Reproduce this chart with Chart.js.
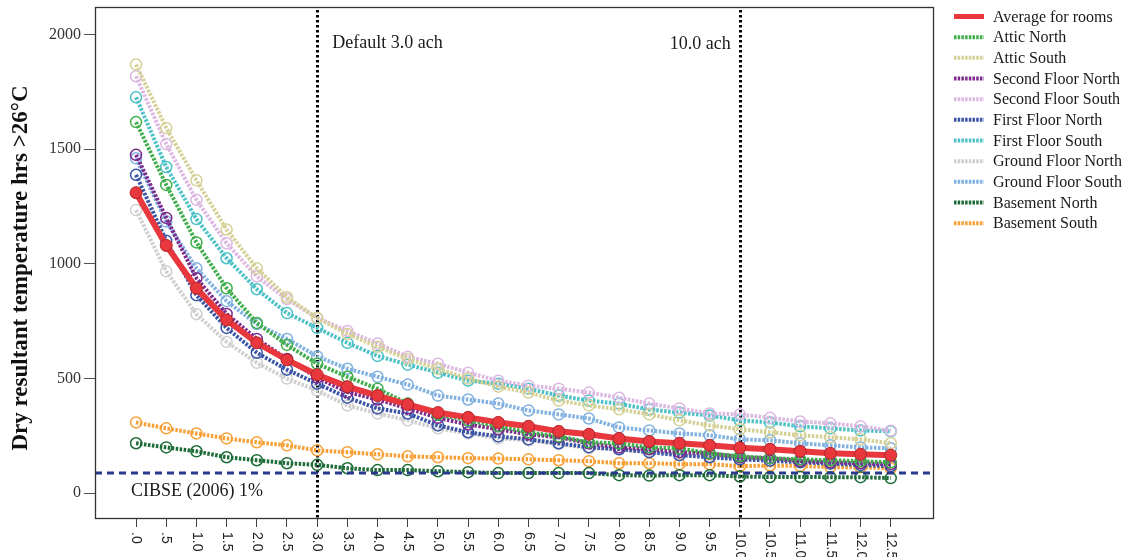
<!DOCTYPE html>
<html>
<head>
<meta charset="utf-8">
<script src="https://cdn.jsdelivr.net/npm/chart.js@4.4.1/dist/chart.umd.min.js"></script>
<style>
  html, body { margin: 0; padding: 0; background: #ffffff; }
  #wrap { width: 1141px; height: 557px; position: relative; }
</style>
</head>
<body>
<div id="wrap"><canvas id="c" width="1141" height="557"></canvas></div>
<script>
// ---- data (air changes per hour, ach) ----
const achValues = [0, 0.5, 1, 1.5, 2, 2.5, 3, 3.5, 4, 4.5, 5, 5.5, 6, 6.5, 7, 7.5, 8, 8.5, 9, 9.5, 10, 10.5, 11, 11.5, 12, 12.5];
const achTickLabels = ['.0', '.5', '1.0', '1.5', '2.0', '2.5', '3.0', '3.5', '4.0', '4.5', '5.0', '5.5', '6.0', '6.5', '7.0', '7.5', '8.0', '8.5', '9.0', '9.5', '10.0', '10.5', '11.0', '11.5', '12.0', '12.5'];
const yTickValues = [0, 500, 1000, 1500, 2000];
const yAxisTitle = 'Dry resultant temperature hrs >26°C';

const averageForRooms   = [1310, 1080, 893, 755, 655, 581, 516, 464, 425, 386, 351, 330, 308, 291, 269, 256, 238, 225, 217, 208, 197, 191, 182, 173, 169, 165];
const atticNorth        = [1618, 1344, 1093, 893, 742, 646, 564, 507, 455, 390, 343, 317, 291, 265, 247, 221, 217, 199, 195, 173, 160, 152, 147, 143, 139, 134];
const atticSouth        = [1869, 1592, 1364, 1149, 980, 854, 763, 694, 638, 585, 542, 499, 464, 438, 403, 382, 365, 343, 317, 295, 278, 265, 252, 243, 234, 217];
const secondFloorNorth  = [1475, 1200, 937, 781, 672, 585, 503, 440, 408, 369, 328, 299, 278, 256, 243, 217, 199, 191, 178, 173, 156, 152, 140, 134, 130, 126];
const secondFloorSouth  = [1818, 1522, 1279, 1089, 945, 846, 763, 707, 652, 594, 564, 525, 490, 468, 455, 438, 416, 390, 369, 347, 343, 328, 312, 304, 291, 272];
const firstFloorNorth   = [1388, 1100, 863, 720, 612, 538, 477, 416, 369, 347, 295, 265, 247, 234, 217, 200, 191, 178, 165, 156, 147, 141, 134, 128, 122, 117];
const firstFloorSouth   = [1726, 1422, 1195, 1024, 889, 785, 720, 655, 598, 560, 525, 490, 477, 455, 425, 403, 390, 364, 351, 338, 317, 308, 291, 282, 273, 269];
const groundFloorNorth  = [1234, 967, 780, 659, 568, 499, 447, 382, 347, 317, 282, 260, 238, 230, 213, 195, 191, 182, 170, 162, 152, 147, 140, 134, 130, 126];
const groundFloorSouth  = [1460, 1184, 980, 837, 737, 672, 596, 542, 507, 473, 425, 408, 390, 360, 343, 325, 286, 273, 260, 252, 234, 230, 217, 208, 199, 195];
const basementNorth     = [217, 199, 182, 156, 143, 130, 123, 108, 100, 100, 95, 91, 87, 87, 87, 87, 78, 76, 78, 78, 72, 70, 70, 69, 69, 65];
const basementSouth     = [308, 282, 260, 238, 221, 208, 186, 178, 169, 160, 156, 152, 150, 147, 143, 139, 130, 130, 126, 126, 117, 120, 118, 113, 112, 108];

const cibseLimit = 87;          // CIBSE (2006) 1% threshold
const markerLines = [3.0, 10.0]; // default 3.0 ach and 10.0 ach

const seriesNames = ['Average for rooms', 'Attic North', 'Attic South', 'Second Floor North', 'Second Floor South',
  'First Floor North', 'First Floor South', 'Ground Floor North', 'Ground Floor South', 'Basement North', 'Basement South'];
const seriesValues = [averageForRooms, atticNorth, atticSouth, secondFloorNorth, secondFloorSouth,
  firstFloorNorth, firstFloorSouth, groundFloorNorth, groundFloorSouth, basementNorth, basementSouth];
const seriesColors = ['#e8373d', '#3fae4a', '#d4d096', '#7d2a8c', '#dbb7e1',
  '#3953a6', '#4dc1c6', '#cfcfcf', '#80b1e1', '#1d6b36', '#f8a035'];

// ---- build datasets ----
const datasets = seriesNames.map((name, i) => {
  const pts = achValues.map((x, k) => ({ x: x, y: seriesValues[i][k] }));
  if (i === 0) {
    return {
      label: name, data: pts, borderColor: seriesColors[i], backgroundColor: seriesColors[i],
      borderWidth: 6, pointRadius: 6, pointBorderWidth: 1, pointBorderColor: '#b3242a',
      pointBackgroundColor: seriesColors[i], tension: 0
    };
  }
  return {
    label: name, data: pts, borderColor: seriesColors[i], backgroundColor: seriesColors[i],
    borderWidth: 4, borderDash: [2.5, 1.5], pointRadius: 5.5, pointBorderWidth: 1.5,
    pointBorderColor: seriesColors[i], pointBackgroundColor: 'rgba(0,0,0,0)', tension: 0
  };
});

const SERIF = "'Liberation Serif', 'Times New Roman', serif";
const SANS = "'Liberation Sans', Arial, sans-serif";

const decorPlugin = {
  id: 'decor',
  beforeDatasetsDraw(chart) {
    const { ctx, chartArea: a, scales: { x, y } } = chart;
    ctx.save();
    // vertical dotted marker lines
    ctx.strokeStyle = '#000';
    ctx.lineWidth = 3;
    ctx.setLineDash([2.5, 2.5]);
    markerLines.forEach(v => {
      const px = Math.round(x.getPixelForValue(v)) + 0.5;
      ctx.beginPath(); ctx.moveTo(px, a.top + 3); ctx.lineTo(px, a.bottom); ctx.stroke();
    });
    ctx.setLineDash([]);
    // annotations
    ctx.fillStyle = '#1a1a1a';
    ctx.font = '18px ' + SERIF;
    ctx.textBaseline = 'alphabetic';
    ctx.textAlign = 'left';
    ctx.fillText('Default 3.0 ach', x.getPixelForValue(3.0) + 15, 48);
    ctx.textAlign = 'right';
    ctx.fillText('10.0 ach', x.getPixelForValue(10.0) - 9, 49);
    ctx.textAlign = 'left';
    ctx.fillText('CIBSE (2006) 1%', 131, 496);
    ctx.restore();
  },
  afterDatasetsDraw(chart) {
    const { ctx, chartArea: a, scales: { x, y } } = chart;
    ctx.save();
    // CIBSE horizontal dashed line
    ctx.strokeStyle = '#283a8e';
    ctx.lineWidth = 3;
    ctx.setLineDash([7, 5]);
    const py = y.getPixelForValue(cibseLimit);
    ctx.beginPath(); ctx.moveTo(a.left, py); ctx.lineTo(a.right, py); ctx.stroke();
    ctx.setLineDash([]);
    // frame
    ctx.strokeStyle = '#333';
    ctx.lineWidth = 1.3;
    ctx.strokeRect(a.left + 0.5, a.top + 0.5, a.right - a.left, a.bottom - a.top);
    ctx.restore();
  },
  afterDraw(chart) {
    const { ctx, scales: { x } } = chart;
    ctx.save();
    // y axis title
    ctx.fillStyle = '#111';
    ctx.font = 'bold 23px ' + SERIF;
    ctx.textAlign = 'center';
    ctx.textBaseline = 'middle';
    ctx.save();
    ctx.translate(21, 268);
    ctx.rotate(-Math.PI / 2);
    ctx.fillText(yAxisTitle, 0, 0);
    ctx.restore();
    // x tick labels rotated (reading top to bottom)
    ctx.fillStyle = '#222';
    ctx.font = '14px ' + SANS;
    ctx.textAlign = 'left';
    ctx.textBaseline = 'middle';
    achValues.forEach((v, i) => {
      const px = x.getPixelForValue(v);
      ctx.save();
      ctx.translate(px, 532);
      ctx.rotate(Math.PI / 2);
      ctx.fillText(achTickLabels[i], 0, 0);
      ctx.restore();
    });
    // legend
    const lx = 954, tx = 993, y0 = 16.5, dy = 20.67;
    ctx.font = '16px ' + SERIF;
    ctx.textAlign = 'left';
    ctx.textBaseline = 'middle';
    seriesNames.forEach((name, i) => {
      const yy = y0 + dy * i;
      ctx.strokeStyle = seriesColors[i];
      if (i === 0) {
        ctx.lineWidth = 5; ctx.setLineDash([]);
      } else {
        ctx.lineWidth = 4; ctx.setLineDash([2.5, 1.2]);
      }
      ctx.beginPath(); ctx.moveTo(lx, yy); ctx.lineTo(lx + 30, yy); ctx.stroke();
      ctx.setLineDash([]);
      ctx.fillStyle = '#1a1a1a';
      ctx.fillText(name, tx, yy + 1);
    });
    ctx.restore();
  }
};

new Chart(document.getElementById('c'), {
  type: 'line',
  data: { datasets },
  options: {
    responsive: false,
    animation: false,
    layout: { padding: { left: 0, right: 208, top: 1, bottom: 0 } },
    plugins: { legend: { display: false }, tooltip: { enabled: false } },
    scales: {
      x: {
        type: 'linear', min: -0.68, max: 13.2,
        afterBuildTicks: (s) => { s.ticks = achValues.map(v => ({ value: v })); },
        afterFit: (s) => { s.height = 39; s.paddingLeft = 0; s.paddingRight = 0; },
        ticks: { autoSkip: false, maxRotation: 0, color: 'rgba(0,0,0,0)', font: { size: 1 } },
        grid: { drawOnChartArea: false, drawTicks: true, tickLength: 9, color: '#444', lineWidth: 1 },
        border: { display: false }
      },
      y: {
        min: -109, max: 2120,
        afterBuildTicks: (s) => { s.ticks = yTickValues.map(v => ({ value: v })); },
        afterFit: (s) => { s.width = 95; s.paddingTop = 0; s.paddingBottom = 0; },
        ticks: { color: '#333', font: { family: SERIF, size: 16 }, padding: 3, callback: (v) => String(v) },
        grid: { drawOnChartArea: false, drawTicks: true, tickLength: 11, color: '#555', lineWidth: 1 },
        border: { display: false },
        title: { display: false }
      }
    }
  },
  plugins: [decorPlugin]
});
</script>
</body>
</html>
